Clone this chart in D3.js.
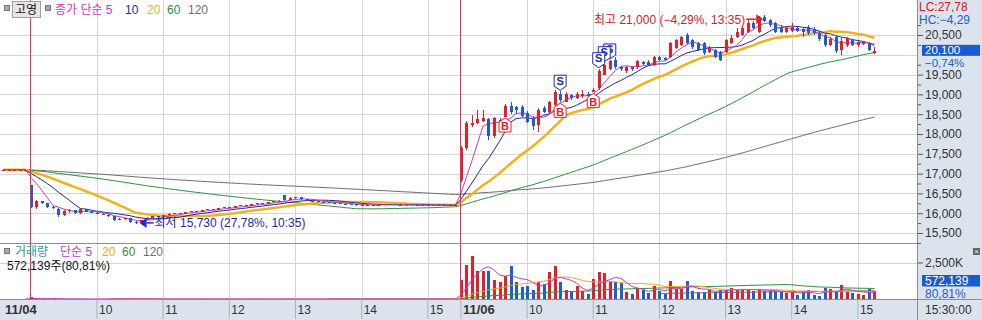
<!DOCTYPE html>
<html>
<head>
<meta charset="utf-8">
<script src="https://cdn.jsdelivr.net/npm/d3@7"></script>
<style>
  body { margin: 0; background: #fff; }
  svg { display: block; font-family: "Liberation Sans", "Noto Sans CJK KR", sans-serif; font-size: 12px; }
</style>
</head>
<body>
<svg id="chart" width="982" height="320"></svg>
<script>
// ---- data (5-minute bars) ----
var sessions = [
  { day: "11/03", start: 15 * 60, bars: 5 },
  { day: "11/04", start: 9 * 60, bars: 78 },
  { day: "11/06", start: 9 * 60, bars: 76 }
];

// [open, high, low, close]
var candles1103 = [
  [17100, 17100, 17100, 17100], [17100, 17100, 17100, 17100], [17100, 17100, 17100, 17100],
  [17100, 17100, 17100, 17100], [17100, 17100, 17100, 17100]
];
var candles1104 = [
  [16700, 16720, 16120, 16150], [16150, 16330, 16100, 16300], [16300, 16320, 16220, 16250], [16250, 16260, 16120, 16150],
  [16150, 16170, 16100, 16120], [16100, 16120, 15900, 15950], [15950, 16080, 15940, 16050], [16050, 16100, 16000, 16080],
  [16080, 16090, 15980, 16000], [16000, 16120, 15990, 16100], [16100, 16110, 16020, 16040], [16040, 16050, 16000, 16010],
  [16010, 16030, 15980, 15990], [15990, 16000, 15950, 15960], [15960, 15980, 15900, 15920], [15920, 15930, 15800, 15830],
  [15830, 15870, 15820, 15860], [15860, 15880, 15830, 15870], [15870, 15880, 15760, 15780], [15780, 15800, 15730, 15760],
  [15760, 15840, 15750, 15830], [15830, 15900, 15820, 15880], [15880, 15930, 15870, 15920], [15920, 15930, 15880, 15900],
  [15900, 15960, 15890, 15950], [15950, 16000, 15940, 15980], [15980, 16010, 15970, 16000], [16000, 16010, 15970, 15990],
  [15990, 16040, 15980, 16030], [16030, 16060, 16020, 16050], [16050, 16060, 16030, 16040], [16040, 16090, 16030, 16080],
  [16080, 16110, 16070, 16100], [16100, 16110, 16080, 16090], [16090, 16140, 16080, 16130], [16130, 16160, 16120, 16150],
  [16150, 16160, 16130, 16140], [16140, 16190, 16130, 16180], [16180, 16210, 16170, 16200], [16200, 16210, 16180, 16190],
  [16190, 16230, 16180, 16220], [16220, 16260, 16210, 16250], [16250, 16260, 16230, 16240], [16240, 16290, 16230, 16280],
  [16280, 16310, 16270, 16300], [16300, 16330, 16290, 16320], [16450, 16470, 16320, 16340], [16340, 16400, 16330, 16380],
  [16380, 16420, 16370, 16400], [16400, 16410, 16340, 16350], [16350, 16360, 16310, 16320], [16320, 16330, 16290, 16300],
  [16300, 16310, 16280, 16290], [16290, 16300, 16270, 16280], [16280, 16290, 16260, 16270], [16270, 16280, 16240, 16250],
  [16250, 16260, 16230, 16240], [16240, 16250, 16220, 16230], [16230, 16240, 16210, 16220], [16220, 16230, 16190, 16200],
  [16200, 16220, 16190, 16210], [16210, 16220, 16190, 16200], [16200, 16210, 16180, 16190], [16190, 16230, 16180, 16220],
  [16220, 16240, 16210, 16230], [16230, 16240, 16210, 16220], [16220, 16230, 16200, 16210], [16210, 16220, 16190, 16200],
  [16200, 16230, 16190, 16220], [16220, 16230, 16200, 16210], [16210, 16220, 16190, 16200], [16200, 16220, 16190, 16210],
  [16210, 16220, 16180, 16190], [16190, 16210, 16180, 16200], [16200, 16220, 16190, 16210], [16210, 16220, 16190, 16200],
  [16200, 16220, 16190, 16210], [16210, 16220, 16190, 16200]
];
var candles1106 = [
  [16850, 17700, 16800, 17650], [17650, 18330, 17600, 18280], [18230, 18480, 18180, 18280], [18280, 18600, 18250, 18380],
  [18330, 18600, 18300, 18400], [18380, 18400, 17850, 17950], [17950, 18430, 17900, 18400], [18250, 18400, 18150, 18350],
  [18430, 18750, 18430, 18700], [18700, 18800, 18500, 18550], [18680, 18700, 18500, 18600], [18680, 18720, 18420, 18450],
  [18530, 18580, 18280, 18300], [18400, 18450, 18100, 18200], [18230, 18650, 18050, 18600], [18650, 18700, 18520, 18550],
  [18550, 18830, 18500, 18800], [18730, 19100, 18700, 19050], [19000, 19080, 18800, 18870], [18820, 19050, 18800, 19000],
  [18980, 19020, 18850, 18900], [18900, 19050, 18880, 19000], [18950, 19100, 18900, 19020], [19020, 19050, 18900, 18950],
  [19050, 19150, 19050, 19120], [19150, 19650, 19100, 19600], [19500, 19800, 19480, 19750], [19650, 19870, 19620, 19850],
  [19870, 19940, 19650, 19680], [19700, 19720, 19600, 19650], [19580, 19720, 19550, 19680], [19680, 19700, 19600, 19650],
  [19680, 19870, 19650, 19850], [19820, 19850, 19750, 19780], [19830, 19880, 19720, 19750], [19750, 19960, 19720, 19940],
  [19950, 19980, 19850, 19880], [19920, 19950, 19840, 19860], [19940, 20330, 19920, 20300], [20180, 20400, 20150, 20370],
  [20250, 20480, 20220, 20450], [20500, 20550, 20270, 20300], [20370, 20400, 20150, 20200], [20300, 20330, 20100, 20130],
  [20300, 20330, 20000, 20050], [20080, 20230, 20050, 20200], [20120, 20150, 19930, 19950], [20070, 20100, 19840, 19870],
  [20070, 20400, 20050, 20370], [20300, 20500, 20280, 20420], [20450, 20680, 20420, 20580], [20500, 20720, 20480, 20680],
  [20580, 20880, 20550, 20800], [20800, 20850, 20650, 20680], [20580, 20980, 20550, 20950], [20950, 21000, 20820, 20850],
  [20880, 20900, 20700, 20750], [20800, 20830, 20550, 20580], [20700, 20750, 20550, 20580], [20580, 20720, 20550, 20680],
  [20600, 20800, 20580, 20700], [20680, 20720, 20570, 20600], [20650, 20700, 20450, 20580], [20700, 20750, 20500, 20550],
  [20650, 20700, 20500, 20550], [20550, 20600, 20350, 20400], [20500, 20530, 20200, 20250], [20250, 20450, 20220, 20400],
  [20450, 20480, 20050, 20100], [20130, 20420, 19990, 20350], [20250, 20450, 20200, 20420], [20370, 20400, 20220, 20250],
  [20250, 20350, 20200, 20320], [20280, 20350, 20250, 20320], [20300, 20330, 20100, 20130], [20050, 20200, 20020, 20100]
];

var vol1103 = [5000, 1000, 1000, 1000, 2000];
var vol1104 = [
  140000, 42000, 18000, 9000, 12000, 30000, 15000, 8000, 6000, 11000,
  7000, 5000, 9000, 6000, 8000, 14000, 6000, 5000, 20000, 16000,
  9000, 7000, 6000, 8000, 5000, 7000, 4000, 6000, 9000, 5000,
  4000, 6000, 3000, 5000, 8000, 4000, 6000, 5000, 3000, 4000,
  7000, 5000, 3000, 4000, 6000, 2000, 3000, 5000, 4000, 3000,
  2000, 4000, 3000, 5000, 2000, 3000, 4000, 2000, 3000, 5000,
  3000, 2000, 4000, 3000, 2000, 3000, 4000, 2000, 3000, 2000,
  4000, 3000, 2000, 3000, 5000, 4000, 6000, 12000
];
var vol1106 = [
  1320000, 2350000, 2920000, 1940000, 1900000, 1900000, 1320000, 1140000, 1550000, 2280000,
  1160000, 800000, 870000, 640000, 1140000, 1050000, 1870000, 2240000, 1140000, 640000,
  480000, 910000, 570000, 365000, 1390000, 1870000, 1780000, 1210000, 1140000, 1100000,
  480000, 340000, 750000, 640000, 410000, 910000, 525000, 340000, 1250000, 685000,
  710000, 1210000, 570000, 460000, 460000, 640000, 500000, 640000, 590000, 750000,
  590000, 640000, 640000, 570000, 685000, 525000, 525000, 525000, 460000, 410000,
  460000, 250000, 525000, 590000, 300000, 180000, 750000, 685000, 460000, 980000,
  460000, 410000, 340000, 300000, 708000, 572139
];

var buySignals = ["11/06 09:40", "11/06 10:30", "11/06 11:00"];
var sellSignals = ["11/06 10:30", "11/06 11:05", "11/06 11:10", "11/06 11:15"];

var priceMAs = [5, 10, 20, 60, 120];
var volMAs = [5, 20, 60, 120];
var priceTicks = d3.range(15500, 20501, 500);
var changeRate = -0.74;
var stockName = "고영";

// ---- build bars ----
function hhmm(m) { return d3.format("02")(Math.floor(m / 60)) + ":" + d3.format("02")(m % 60); }
var keys = [];
sessions.forEach(function (s) {
  for (var i = 0; i < s.bars; i++) keys.push(s.day + " " + hhmm(s.start + i * 5));
});
var ohlc = candles1103.concat(candles1104, candles1106);
var vols = vol1103.concat(vol1104, vol1106);
var bars = keys.map(function (k, i) {
  return { key: k, day: k.slice(0, 5), time: k.slice(6), o: ohlc[i][0], h: ohlc[i][1], l: ohlc[i][2], c: ohlc[i][3], v: vols[i] };
});
var closes = bars.map(function (d) { return d.c; });

// moving averages; price history before the first bar is taken as the first close
function sma(vals, n, pad) {
  return vals.map(function (v, i) {
    if (pad === undefined && i < n - 1) return null;
    var s = 0;
    for (var k = i - n + 1; k <= i; k++) s += k < 0 ? pad : vals[k];
    return s / n;
  });
}

// ---- layout ----
var W = 982, H = 320, plotR = 917, topB = 243, volT = 244, volB = 299;
var RED = "#e3202a", BLUE = "#1f5bd1";
var maColors = { 5: "#c43cc4", 10: "#1c2a8c", 20: "#f0b21e", 60: "#2f8f3f", 120: "#6f6f6f" };
var vmaColors = { 5: "#c43cc4", 20: "#f0a81e", 60: "#2f8f3f", 120: "#6f6f6f" };

var svg = d3.select("#chart");
var x = d3.scaleBand().domain(keys).range([0.5, 877.2]);
function cx(k) { return x(k) + x.bandwidth() / 2; }
var y = d3.scaleLinear().domain([15500, 20500]).range([233, 35]);
var yv = d3.scaleLinear().domain([0, 2500000]).range([volB, 262.5]);

var defs = svg.append("defs");
defs.append("clipPath").attr("id", "clipTop").append("rect").attr("x", 0).attr("y", 0).attr("width", plotR).attr("height", topB);
defs.append("clipPath").attr("id", "clipVol").append("rect").attr("x", 0).attr("y", volT).attr("width", plotR).attr("height", volB - volT);

// axis backgrounds
svg.append("rect").attr("x", plotR).attr("y", 0).attr("width", W - plotR).attr("height", H).attr("fill", "#dbe3ed");
svg.append("rect").attr("x", 0).attr("y", volB).attr("width", W).attr("height", H - volB).attr("fill", "#dbe3ed");

// ---- grid ----
var grid = svg.append("g").attr("stroke", "#d4d4d4").attr("shape-rendering", "crispEdges");
priceTicks.forEach(function (p) {
  grid.append("line").attr("x1", 0).attr("x2", plotR).attr("y1", Math.round(y(p)) + 0.5).attr("y2", Math.round(y(p)) + 0.5);
});
grid.append("line").attr("x1", 0).attr("x2", plotR).attr("y1", Math.round(yv(2500000)) + 0.5).attr("y2", Math.round(yv(2500000)) + 0.5);

var dayStarts = bars.filter(function (d, i) { return i > 0 && d.day !== bars[i - 1].day; });
var hourBars = bars.filter(function (d, i) {
  return d.day !== "11/03" && d.time.slice(3) === "00" && dayStarts.indexOf(d) < 0;
});
hourBars.forEach(function (d) {
  var xx = Math.round(cx(d.key)) + 0.5;
  grid.append("line").attr("x1", xx).attr("x2", xx).attr("y1", 0).attr("y2", volB);
});

// ---- price pane ----
var pane = svg.append("g").attr("clip-path", "url(#clipTop)");
priceMAs.slice().reverse().forEach(function (n) {
  var ma = sma(closes, n, closes[0]);
  pane.append("path")
    .datum(bars)
    .attr("fill", "none")
    .attr("stroke", maColors[n])
    .attr("stroke-width", n === 20 ? 2.5 : 1)
    .attr("d", d3.line().x(function (d) { return cx(d.key); }).y(function (d, i) { return y(ma[i]); }));
});

var candle = pane.append("g").selectAll("g").data(bars).enter().append("g")
  .attr("shape-rendering", "crispEdges");
candle.append("line")
  .attr("x1", function (d) { return Math.round(cx(d.key)) + 0.5; })
  .attr("x2", function (d) { return Math.round(cx(d.key)) + 0.5; })
  .attr("y1", function (d) { return y(d.h); })
  .attr("y2", function (d) { return y(d.l); })
  .attr("stroke", function (d) { return d.c >= d.o ? RED : BLUE; });
candle.append("rect")
  .attr("x", function (d) { return Math.round(cx(d.key)) - 1; })
  .attr("width", 3)
  .attr("y", function (d) { return y(Math.max(d.o, d.c)); })
  .attr("height", function (d) { return Math.max(1, y(Math.min(d.o, d.c)) - y(Math.max(d.o, d.c))); })
  .attr("fill", function (d) { return d.c >= d.o ? RED : BLUE; });

// buy / sell signals
var byKey = {};
bars.forEach(function (d) { byKey[d.key] = d; });
buySignals.forEach(function (k) {
  var d = byKey[k], px = cx(k), t = y(d.l) + 1;
  var g = pane.append("g");
  g.append("path")
    .attr("d", "M" + px + "," + t + "L" + (px + 6) + "," + (t + 4) + "L" + (px + 6) + "," + (t + 14) +
      "L" + (px - 6) + "," + (t + 14) + "L" + (px - 6) + "," + (t + 4) + "Z")
    .attr("fill", "#fff").attr("stroke", RED);
  g.append("text").attr("x", px).attr("y", t + 12.5).attr("text-anchor", "middle")
    .attr("fill", RED).attr("font-size", "11px").attr("font-weight", "bold").text("B");
});
sellSignals.slice().reverse().forEach(function (k) {
  var d = byKey[k], px = cx(k), b = y(d.h) - 1;
  var g = pane.append("g");
  g.append("path")
    .attr("d", "M" + px + "," + b + "L" + (px + 6) + "," + (b - 4) + "L" + (px + 6) + "," + (b - 15) +
      "L" + (px - 6) + "," + (b - 15) + "L" + (px - 6) + "," + (b - 4) + "Z")
    .attr("fill", "#fff").attr("stroke", "#1a2aa8");
  g.append("text").attr("x", px).attr("y", b - 5.5).attr("text-anchor", "middle")
    .attr("fill", "#1a2aa8").attr("font-size", "11px").attr("font-weight", "bold").text("S");
});

// high / low annotations
var last = bars[bars.length - 1];
var hiBar = bars.reduce(function (a, b) { return b.h > a.h ? b : a; });
var loBar = bars.reduce(function (a, b) { return b.l < a.l ? b : a; });
function pct(v) { return d3.format(".2f")(v).replace(".", ","); }
var hiPct = (last.c / hiBar.h - 1) * 100, loPct = (last.c / loBar.l - 1) * 100;

var hx = cx(hiBar.key), hy = y(hiBar.h) + 4;
pane.append("path").attr("d", "M" + (hx - 1) + "," + hy + "L" + (hx - 8) + "," + (hy - 5) + "L" + (hx - 8) + "," + (hy + 5) + "Z").attr("fill", RED);
pane.append("line").attr("x1", hx - 18).attr("x2", hx - 8).attr("y1", hy).attr("y2", hy).attr("stroke", RED).attr("stroke-width", 1.5);
pane.append("text").attr("x", hx - 19).attr("y", hy + 4.5).attr("text-anchor", "end").attr("fill", "#d42020")
  .text("최고 " + d3.format(",")(hiBar.h) + " (" + pct(hiPct) + "%, " + hiBar.time + ")");

var lx = cx(loBar.key) + 4, ly = y(loBar.l) - 1;
pane.append("path").attr("d", "M" + lx + "," + ly + "L" + (lx + 7) + "," + (ly - 5) + "L" + (lx + 7) + "," + (ly + 5) + "Z").attr("fill", "#1a30c8");
pane.append("line").attr("x1", lx + 7).attr("x2", lx + 14).attr("y1", ly).attr("y2", ly).attr("stroke", "#1a30c8").attr("stroke-width", 1.5);
pane.append("text").attr("x", lx + 15).attr("y", ly + 4.5).attr("fill", "#1e2a9c")
  .text("최저 " + d3.format(",")(loBar.l) + " (" + pct(loPct) + "%, " + loBar.time + ")");

// ---- volume pane ----
var vol = svg.append("g").attr("clip-path", "url(#clipVol)");
vol.append("g").selectAll("rect").data(bars).enter().append("rect")
  .attr("shape-rendering", "crispEdges")
  .attr("x", function (d) { return Math.round(cx(d.key)) - 1; })
  .attr("width", 3)
  .attr("y", function (d) { return yv(d.v); })
  .attr("height", function (d) { return volB - yv(d.v); })
  .attr("fill", function (d) { return d.c >= d.o ? RED : BLUE; });
volMAs.slice().reverse().forEach(function (n) {
  var ma = sma(vols, n);
  vol.append("path")
    .datum(bars)
    .attr("fill", "none")
    .attr("stroke", vmaColors[n])
    .attr("stroke-width", 1)
    .attr("d", d3.line()
      .defined(function (d, i) { return ma[i] !== null; })
      .x(function (d) { return cx(d.key); })
      .y(function (d, i) { return yv(ma[i]); }));
});

// day separators on top of both panes
dayStarts.forEach(function (d) {
  var xx = Math.round(cx(d.key)) - 0.5;
  svg.append("line").attr("x1", xx).attr("x2", xx).attr("y1", 0).attr("y2", volB)
    .style("stroke", "#ec2b62").style("stroke-width", 1);
});

// ---- borders ----
var border = svg.append("g").attr("stroke", "#8c8c8c").attr("shape-rendering", "crispEdges");
border.append("line").attr("x1", 0).attr("x2", plotR).attr("y1", topB + 0.5).attr("y2", topB + 0.5);
border.append("line").attr("x1", 0).attr("x2", W).attr("y1", volB + 0.5).attr("y2", volB + 0.5);
border.append("line").attr("x1", plotR + 0.5).attr("x2", plotR + 0.5).attr("y1", 0).attr("y2", H);

// ---- right axis ----
var curY = y(last.c);
var yAxis = d3.axisRight(y)
  .tickValues(priceTicks.filter(function (p) { return Math.abs(y(p) - curY) > 12; }))
  .tickSize(5).tickPadding(2).tickFormat(d3.format(","));
var ya = svg.append("g").attr("transform", "translate(" + (plotR + 1) + ",0)").call(yAxis);
ya.select(".domain").remove();
ya.selectAll("text").attr("fill", "#333").style("font-size", "12px").style("font-family", "Liberation Sans, sans-serif");
ya.selectAll("line").attr("stroke", "#555");
var yMinor = d3.axisRight(y).tickValues(d3.range(15250, 20751, 500)).tickSize(3).tickFormat("");
var ym = svg.append("g").attr("transform", "translate(" + (plotR + 1) + ",0)").call(yMinor);
ym.select(".domain").remove();
ym.selectAll("line").attr("stroke", "#555");

svg.append("text").attr("x", 919).attr("y", 11).attr("fill", "#d42020")
  .text("LC:" + pct(loPct));
svg.append("text").attr("x", 919).attr("y", 24).attr("fill", "#1f5bd1")
  .text("HC:" + pct(hiPct));
svg.append("rect").attr("x", 922).attr("y", curY - 6).attr("width", 58).attr("height", 11).attr("fill", "#1b5ad0");
svg.append("text").attr("x", 925).attr("y", curY + 3.5).attr("fill", "#fff").style("font-size", "11.5px").text(d3.format(",")(last.c));
svg.append("text").attr("x", 925).attr("y", curY + 16).attr("fill", "#1f5bd1").style("font-size", "11.5px").text(pct(changeRate) + "%");

// volume axis
var va = svg.append("g").attr("transform", "translate(" + (plotR + 1) + ",0)")
  .call(d3.axisRight(yv).tickValues([2500000]).tickSize(5).tickPadding(2)
    .tickFormat(function (v) { return d3.format(",")(v / 1000) + "K"; }));
va.select(".domain").remove();
va.selectAll("text").attr("fill", "#333").style("font-size", "12px");
va.selectAll("line").attr("stroke", "#555");
var prevVol = bars[bars.length - 2].v;
svg.append("rect").attr("x", 922).attr("y", 275).attr("width", 58).attr("height", 11.5).attr("fill", "#1b5ad0");
svg.append("text").attr("x", 925).attr("y", 285).attr("fill", "#fff").text(d3.format(",")(last.v));
svg.append("text").attr("x", 925).attr("y", 297.5).attr("fill", "#1f5bd1").text(pct(last.v / prevVol * 100) + "%");
svg.append("rect").attr("x", 973).attr("y", 248).attr("width", 7).attr("height", 7).attr("fill", "#666");
svg.append("text").attr("x", 976.5).attr("y", 254).attr("text-anchor", "middle").attr("fill", "#fff").attr("font-size", "8px").text("×");

// ---- bottom axis ----
var tickBars = dayStarts.concat(hourBars);
var xAxis = d3.axisBottom(x)
  .tickValues(tickBars.map(function (d) { return d.key; }))
  .tickSize(20)
  .tickFormat(function (k) {
    var d = byKey[k];
    return dayStarts.indexOf(d) >= 0 ? d.day : String(+d.time.slice(0, 2));
  });
var xa = svg.append("g").attr("transform", "translate(0," + volB + ")").call(xAxis);
xa.select(".domain").remove();
xa.selectAll("line").attr("stroke", "#a8b2bf");
xa.selectAll("text")
  .attr("text-anchor", "start").attr("x", 2).attr("y", 6)
  .attr("fill", "#333").style("font-size", "12px")
  .style("font-weight", function (k) { return dayStarts.indexOf(byKey[k]) >= 0 ? "bold" : "normal"; });
// first visible date label sits at the left edge
xa.selectAll(".tick").filter(function (k) { return k === dayStarts[0].key; })
  .each(function () {
    var t = d3.select(this);
    t.select("line").remove();
    t.select("text").attr("x", 5 - cx(dayStarts[0].key)).style("font-size", "13px");
  });
xa.selectAll(".tick").filter(function (k) { return k === dayStarts[1].key; })
  .select("text").style("font-size", "13px");
svg.append("text").attr("x", 925).attr("y", 314).attr("fill", "#333").text("15:30:00");

// ---- legends ----
function legendBox(yy) {
  svg.append("rect").attr("x", 4.5).attr("y", yy - 3.5).attr("width", 5).attr("height", 5)
    .attr("fill", "#aaa").attr("stroke", "#777");
}
legendBox(9);
svg.append("rect").attr("x", 12.5).attr("y", 1.5).attr("width", 28).attr("height", 16).attr("fill", "#e6e6e6").attr("stroke", "#a0a0a0");
svg.append("text").attr("x", 15).attr("y", 14).attr("fill", "#111").text(stockName);
svg.append("rect").attr("x", 45.5).attr("y", 5.5).attr("width", 5).attr("height", 5).attr("fill", "#aaa").attr("stroke", "#777");
var leg = [["종가 단순 5", 55, maColors[5]], ["10", 125, maColors[10]], ["20", 147, maColors[20]], ["60", 167, maColors[60]], ["120", 188, maColors[120]]];
leg.forEach(function (l) { svg.append("text").attr("x", l[1]).attr("y", 14).attr("fill", l[2]).text(l[0]); });

legendBox(252);
var vleg = [["거래량", 15, "#2f9a9a"], ["단순 5", 60, vmaColors[5]], ["20", 102, vmaColors[20]], ["60", 122, vmaColors[60]], ["120", 143, vmaColors[120]]];
vleg.forEach(function (l) { svg.append("text").attr("x", l[1]).attr("y", 256).attr("fill", l[2]).text(l[0]); });
svg.append("text").attr("x", 7).attr("y", 270).attr("fill", "#111")
  .text(d3.format(",")(last.v) + "주(" + pct(last.v / prevVol * 100) + "%)");
</script>
</body>
</html>
